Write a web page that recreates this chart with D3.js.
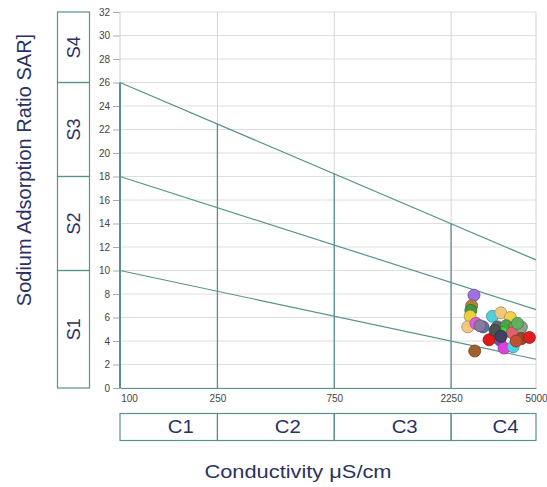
<!DOCTYPE html>
<html>
<head>
<meta charset="utf-8">
<script src="https://cdn.jsdelivr.net/npm/d3@7"></script>
<style>
    body { margin: 0; background: #fff; }
    svg { display: block; font-family: Arial, "Liberation Sans", sans-serif; }
</style>
</head>
<body>
<div id="chart"></div>
<script>
// Salinity (EC) axis breaks and SAR ticks
const ecTicks = [100, 250, 750, 2250, 5000];
const sarTicks = [0, 2, 4, 6, 8, 10, 12, 14, 16, 18, 20, 22, 24, 26, 28, 30, 32];

const salinityClasses = ['C1', 'C2', 'C3', 'C4'];
const sodiumClasses = ['S1', 'S2', 'S3', 'S4'];
const sodiumBounds = [0, 10, 18, 26, 32];   // SAR limits of S boxes at EC = 100

// class boundary lines: [EC, SAR] endpoints
const lineS1S2 = [[100, 10], [5000, 2.45]];
const lineS2S3 = [[100, 18], [5000, 6.67]];
const lineS3S4 = [[100, 26], [5000, 10.9]];

// vertical C dividers and the SAR where they meet the top line
const dividerEC = [250, 750, 2250];
const dividerTop = [22.5, 18.25, 14.0];

// water samples
const sampleEC = [2790, 2730, 2710, 2690, 2630, 2840, 3040, 2950, 3320, 3590,
                  3930, 3480, 3780, 4100, 4300, 3670, 4000, 4360, 3550, 4360,
                  4700, 3700, 4030, 3215, 2810, 3400, 4150, 3600, 4200];
const sampleSAR = [7.9, 7.0, 6.6, 6.1, 5.2, 5.5, 5.2, 5.3, 6.1, 6.4,
                   6.0, 5.2, 5.3, 5.2, 4.8, 4.7, 4.7, 5.2, 4.1, 4.2,
                   4.3, 3.4, 3.5, 4.1, 3.15, 4.9, 4.0, 4.4, 5.5];
const sampleColor = ['#a070e0', '#b08040', '#3a9a3a', '#e8d040', '#f0c880', '#e060e0', '#5878a8', '#8a7aa0', '#50d0d8', '#f0c880',
                     '#f0d050', '#606870', '#50a050', '#80a060', '#d890a0', '#30e030', '#e06070', '#90a090', '#6a50c0', '#905030',
                     '#e02020', '#e040e0', '#50d0e0', '#e01818', '#a06030', '#505050', '#c05030', '#404060', '#60b060'];

const width = 547, height = 487;
const teal = '#5a918d';
const navy = '#2a3262';

const svg = d3.select('#chart').append('svg')
    .attr('width', width)
    .attr('height', height);

const x = d3.scaleLog().domain([100, 5000]).range([120, 536]);
const y = d3.scaleLinear().domain([0, 32]).range([388, 12]);

// grid
svg.append('g').selectAll('line')
    .data(sarTicks)
    .enter().append('line')
    .attr('x1', x(100)).attr('x2', x(5000))
    .attr('y1', d => y(d)).attr('y2', d => y(d))
    .attr('stroke', '#dedede');

svg.append('g').selectAll('line')
    .data(ecTicks.slice(1))
    .enter().append('line')
    .attr('x1', d => x(d)).attr('x2', d => x(d))
    .attr('y1', y(0)).attr('y2', y(32))
    .attr('stroke', '#d4d4d4');

// y axis
const yAxis = svg.append('g')
    .attr('transform', `translate(${x(100)},0)`)
    .call(d3.axisLeft(y).tickValues(sarTicks).tickSize(7).tickPadding(3));
yAxis.select('.domain').remove();
yAxis.selectAll('line').attr('stroke', '#aaa');
yAxis.selectAll('text').attr('fill', '#444').style('font-size', '10px').style('font-family', 'Arial, "Liberation Sans", sans-serif');

// x axis
const xAxis = svg.append('g')
    .attr('transform', `translate(0,${y(0)})`)
    .call(d3.axisBottom(x).tickValues(ecTicks).tickFormat(d3.format('d')).tickSize(0).tickPadding(7));
xAxis.select('.domain').attr('stroke', teal);
xAxis.selectAll('text').attr('fill', '#444').style('font-size', '10px').style('font-family', 'Arial, "Liberation Sans", sans-serif')
    .attr('dx', (d, i) => i === 0 ? 9 : 0);

// left axis line
svg.append('line')
    .attr('x1', x(100)).attr('x2', x(100))
    .attr('y1', y(0)).attr('y2', y(26))
    .attr('stroke', teal).attr('stroke-width', 2);
svg.append('line')
    .attr('x1', x(100)).attr('x2', x(100))
    .attr('y1', y(26)).attr('y2', y(32))
    .attr('stroke', '#cfcfcf');

// dividers
svg.append('g').selectAll('line')
    .data(dividerEC)
    .enter().append('line')
    .attr('x1', d => x(d)).attr('x2', d => x(d))
    .attr('y1', y(0)).attr('y2', (d, i) => y(dividerTop[i]))
    .attr('stroke', teal).attr('stroke-width', 1.3);

// class boundary lines
const line = d3.line().x(d => x(d[0])).y(d => y(d[1]));
svg.append('g').selectAll('path')
    .data([lineS1S2, lineS2S3, lineS3S4])
    .enter().append('path')
    .attr('d', line)
    .attr('fill', 'none')
    .attr('stroke', teal).attr('stroke-width', 1.2);

// S boxes on the left
const sBox = svg.append('g');
sodiumClasses.forEach((s, i) => {
    const top = y(sodiumBounds[i + 1]), bot = y(sodiumBounds[i]);
    sBox.append('rect')
        .attr('x', 57.5).attr('y', top)
        .attr('width', 32).attr('height', bot - top)
        .attr('fill', 'none').attr('stroke', teal).attr('stroke-width', 1.2);
    sBox.append('text')
        .attr('transform', `translate(${80},${(top + bot) / 2}) rotate(-90)`)
        .attr('text-anchor', 'middle')
        .attr('fill', navy)
        .style('font-size', '18px')
        .text(s);
});

// C boxes at the bottom
const cBox = svg.append('g');
salinityClasses.forEach((c, i) => {
    const x0 = x(ecTicks[i]), x1 = x(ecTicks[i + 1]);
    cBox.append('rect')
        .attr('x', x0).attr('y', 413.5)
        .attr('width', x1 - x0).attr('height', 27)
        .attr('fill', 'none').attr('stroke', teal).attr('stroke-width', 1.2);
    cBox.append('text')
        .attr('x', (x0 + x1) / 2 + 12).attr('y', 433)
        .attr('text-anchor', 'middle')
        .attr('fill', navy)
        .attr('textLength', 26)
        .attr('lengthAdjust', 'spacingAndGlyphs')
        .style('font-size', '18px')
        .text(c);
});

// samples
svg.append('g').selectAll('circle')
    .data(sampleEC)
    .enter().append('circle')
    .attr('cx', d => x(d))
    .attr('cy', (d, i) => y(sampleSAR[i]))
    .attr('r', 6)
    .attr('fill', (d, i) => sampleColor[i])
    .attr('stroke', (d, i) => d3.color(sampleColor[i]).darker(1))
    .attr('stroke-width', 0.8);

// axis titles
svg.append('text')
    .attr('transform', 'translate(31,170) rotate(-90)')
    .attr('text-anchor', 'middle')
    .attr('fill', navy)
    .style('font-size', '20px')
    .text('Sodium Adsorption Ratio SAR]');

svg.append('text')
    .attr('x', 298).attr('y', 478)
    .attr('text-anchor', 'middle')
    .attr('fill', navy)
    .attr('textLength', 187)
    .attr('lengthAdjust', 'spacingAndGlyphs')
    .style('font-size', '19px')
    .text('Conductivity μS/cm');
</script>
</body>
</html>
